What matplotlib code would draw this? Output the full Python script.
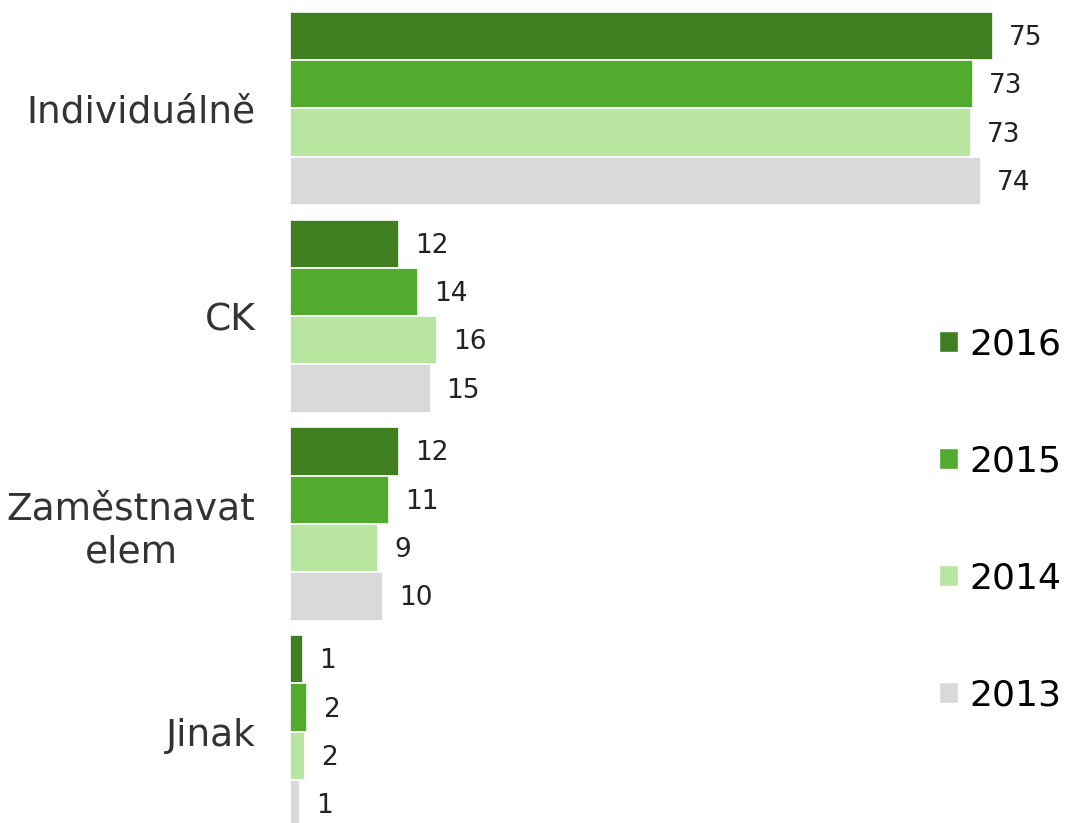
import matplotlib.pyplot as plt
from matplotlib.patches import Patch
import numpy as np

categories = ['Individuálně', 'CK', 'Zaměstnavat\nelem', 'Jinak']
years = ['2016', '2015', '2014', '2013']
colors = ['#3f7f22', '#52ab2e', '#b8e6a0', '#d9d9d9']

# values per year (bar lengths), labels are rounded
v2016 = [75.0, 11.6, 11.6, 1.4]
v2015 = [72.9, 13.7, 10.6, 1.8]
v2014 = [72.7, 15.7, 9.4, 1.6]
v2013 = [73.7, 15.0, 9.9, 1.1]
series = [v2016, v2015, v2014, v2013]

fig = plt.figure(figsize=(10.67, 8.23), dpi=100)
ax = fig.add_axes([290 / 1067, 0, 777 / 1067, 1])

y = np.arange(len(categories))
h = 0.2326
for i, (vals, col) in enumerate(zip(series, colors)):
    pos = y - 1.5 * h + i * h
    ax.barh(pos, vals, height=h, color=col, edgecolor='white', linewidth=1.2)
    for p, v in zip(pos, vals):
        ax.text(v + 1.7, p + 0.01, f'{round(v):d}', va='center', ha='left',
                fontsize=19, color='#222222')

ax.set_xlim(0, 82.9)
ax.set_ylim(3.44, -0.522)
ax.set_yticks(y)
ax.set_yticklabels(categories, fontsize=27, color='#333333', ha='right',
                   multialignment='center', linespacing=1.25)
ax.tick_params(axis='y', length=0, pad=25)
ax.set_xticks([])
for s in ax.spines.values():
    s.set_visible(False)

handles = [Patch(facecolor=c, edgecolor='white') for c in colors]
fig.legend(handles, years, loc='center right', bbox_to_anchor=(1.012, 0.368),
           frameon=False, fontsize=26, handlelength=0.52, handleheight=0.52,
           handletextpad=0.33, labelspacing=2.3, borderaxespad=0.1)

fig.savefig('out.png', dpi=100)
